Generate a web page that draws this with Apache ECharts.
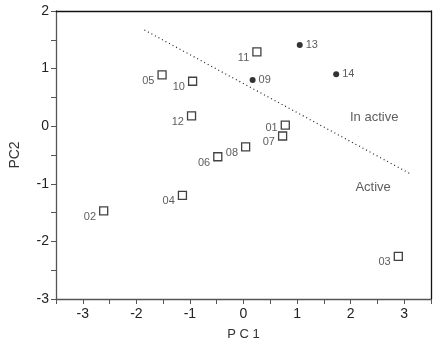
<!DOCTYPE html>
<html><head><meta charset="utf-8">
<script src="https://cdn.jsdelivr.net/npm/echarts@6/dist/echarts.min.js"></script>
<style>html,body{margin:0;padding:0;background:#fff}#c{width:436px;height:347px}</style>
</head><body><div id="c"></div>
<script>
// Data
const openNames = ['01','02','03','04','05','06','07','08','10','11','12'];
const openX = [0.78,-2.61,2.89,-1.14,-1.52,-0.48,0.73,0.04,-0.95,0.25,-0.97];
const openY = [0.02,-1.47,-2.26,-1.20,0.89,-0.53,-0.17,-0.36,0.78,1.29,0.18];
const filledNames = ['09','13','14'];
const filledX = [0.17,1.05,1.73];
const filledY = [0.80,1.41,0.90];
const lineX = [-1.85,3.1];
const lineY = [1.67,-0.82];
const regionNames = ['In active','Active'];
const regionX = [2.44,2.42];
const regionY = [0.16,-1.06];
const xTicks = [-3,-2,-1,0,1,2,3];
const yTicks = [-3,-2,-1,0,1,2];

const font = 'Arial, "Liberation Sans", sans-serif';
const labelDy = {'01':3};
const ptLabel = (name, pos) => ({
  show:true, formatter:name, position:pos, distance:3,
  offset:[0, pos==='left' ? (labelDy[name]!==undefined?labelDy[name]:6) : 0],
  fontFamily:font, fontSize:11, color:'#333'
});

const chart = echarts.init(document.getElementById('c'));
chart.setOption({
  animation:false,
  grid:{left:52,right:5,top:11,bottom:48,show:false},
  xAxis:{type:'value',min:-3.5,max:3.5,interval:0.5,
    name:'P C 1',nameLocation:'middle',nameGap:29,
    nameTextStyle:{fontFamily:font,fontSize:13,color:'#333'},
    axisLine:{show:true,onZero:false,lineStyle:{color:'#555',width:1.3}},
    axisTick:{show:true,inside:false,length:5,lineStyle:{color:'#555'}},
    axisLabel:{fontFamily:font,fontSize:14,color:'#222',margin:8,
      formatter:v=>xTicks.includes(v)?String(v):''},
    splitLine:{show:false}},
  yAxis:{type:'value',min:-3,max:2,interval:0.5,
    name:'PC2',nameLocation:'middle',nameGap:34,nameRotate:90,
    nameTextStyle:{fontFamily:font,fontSize:14,color:'#333'},
    axisLine:{show:true,onZero:false,lineStyle:{color:'#555',width:1.3}},
    axisTick:{show:true,inside:false,length:5,lineStyle:{color:'#555'}},
    axisLabel:{fontFamily:font,fontSize:14,color:'#222',margin:7,
      formatter:v=>yTicks.includes(v)?String(v):''},
    splitLine:{show:false}},
  graphic:[],
  series:[
    {type:'line',data:lineX.map((x,i)=>[x,lineY[i]]),symbol:'none',
     lineStyle:{type:[1,3],width:1.2,color:'#222'},silent:true},
    {type:'scatter',symbol:'rect',symbolSize:8,
     itemStyle:{color:'#fff',borderColor:'#111',borderWidth:1.3},
     data:openNames.map((n,i)=>({value:[openX[i],openY[i]],label:ptLabel(n,'left')}))},
    {type:'scatter',symbol:'circle',symbolSize:6,
     itemStyle:{color:'#000'},
     data:filledNames.map((n,i)=>({value:[filledX[i],filledY[i]],label:ptLabel(n,'right')}))},
    {type:'scatter',symbolSize:0,
     data:regionNames.map((n,i)=>({value:[regionX[i],regionY[i]],
       label:{show:true,formatter:n,position:'inside',fontFamily:font,fontSize:13,color:'#333'}}))}
  ]
});
// frame (top and right lines) drawn as axes
chart.setOption({
  xAxis:[chart.getOption().xAxis[0],{type:'value',position:'top',min:-3.5,max:3.5,
    axisLine:{show:true,onZero:false,lineStyle:{color:'#111',width:1.3}},axisTick:{show:false},axisLabel:{show:false},splitLine:{show:false}}],
  yAxis:[chart.getOption().yAxis[0],{type:'value',position:'right',min:-3,max:2,
    axisLine:{show:true,onZero:false,lineStyle:{color:'#111',width:1.3}},axisTick:{show:false},axisLabel:{show:false},splitLine:{show:false}}]
});
</script></body></html>
